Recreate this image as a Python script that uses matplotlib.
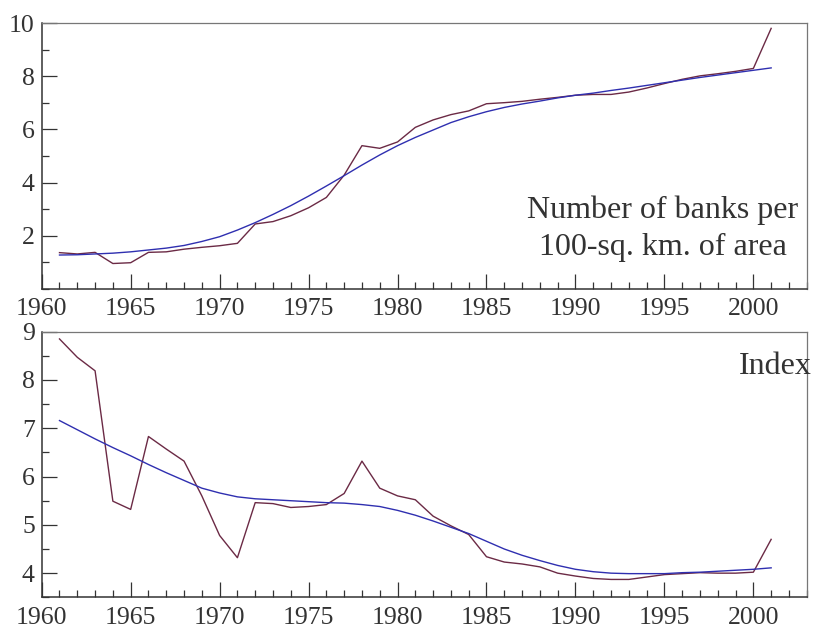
import numpy as np
import matplotlib
matplotlib.use("Agg")
import matplotlib.pyplot as plt
from matplotlib.ticker import MultipleLocator

plt.rcParams['font.family'] = ['Liberation Serif', 'DejaVu Serif']

years = list(range(1961, 2002))

# number of banks per 100 sq. km, actual and trend
banks_actual = [1.36, 1.31, 1.37, 0.95, 0.98, 1.37, 1.39, 1.49, 1.56, 1.62,
                1.71, 2.44, 2.53, 2.75, 3.05, 3.44, 4.28, 5.39, 5.29, 5.53,
                6.08, 6.36, 6.56, 6.70, 6.97, 7.01, 7.06, 7.14, 7.21, 7.29,
                7.32, 7.32, 7.41, 7.56, 7.73, 7.89, 8.02, 8.10, 8.19, 8.30,
                9.81]
banks_trend = [1.27, 1.28, 1.31, 1.34, 1.39, 1.46, 1.53, 1.63, 1.78, 1.96,
               2.21, 2.49, 2.80, 3.13, 3.49, 3.87, 4.26, 4.66, 5.04, 5.39,
               5.70, 5.98, 6.26, 6.48, 6.67, 6.83, 6.96, 7.07, 7.19, 7.29,
               7.37, 7.47, 7.56, 7.66, 7.76, 7.86, 7.96, 8.05, 8.14, 8.23,
               8.32]

# index, actual and trend
index_actual = [8.85, 8.47, 8.19, 5.49, 5.32, 6.83, 6.57, 6.32, 5.60, 4.78,
                4.32, 5.46, 5.44, 5.36, 5.38, 5.42, 5.65, 6.32, 5.76, 5.60,
                5.52, 5.18, 4.98, 4.80, 4.34, 4.23, 4.19, 4.13, 4.00, 3.94,
                3.89, 3.87, 3.87, 3.92, 3.97, 3.99, 4.01, 4.00, 4.00, 4.02,
                4.70]
index_trend = [7.16, 6.97, 6.78, 6.60, 6.43, 6.25, 6.08, 5.92, 5.76, 5.66,
               5.58, 5.54, 5.52, 5.50, 5.48, 5.46, 5.45, 5.42, 5.38, 5.30,
               5.20, 5.08, 4.95, 4.82, 4.66, 4.50, 4.37, 4.26, 4.16, 4.08,
               4.03, 4.00, 3.99, 3.99, 3.99, 4.01, 4.02, 4.04, 4.06, 4.08,
               4.11]

red = '#6b2a45'
blue = '#2f2fb0'
txt = '#333333'

fig = plt.figure(figsize=(8.13, 6.30), dpi=100)
ax1 = fig.add_axes([0.0513, 0.5417, 0.941, 0.4213])
ax2 = fig.add_axes([0.0513, 0.0519, 0.941, 0.4216])


def style(ax):
    ax.set_xlim(1960, 2003)
    ax.xaxis.set_major_locator(MultipleLocator(5))
    ax.xaxis.set_minor_locator(MultipleLocator(1))
    ax.tick_params(which='both', direction='in', colors=txt, labelsize=18.5,
                   top=False, right=False)
    ax.tick_params(axis='x', which='major', length=11, width=0.9, pad=7)
    ax.tick_params(axis='x', which='minor', length=5, width=0.9)
    ax.tick_params(axis='y', which='major', length=11, width=0.9, pad=5)
    ax.tick_params(axis='y', which='minor', length=5, width=0.9)
    for s in ['left', 'bottom']:
        ax.spines[s].set_color(txt)
        ax.spines[s].set_linewidth(1.1)
    for s in ['top', 'right']:
        ax.spines[s].set_color('#777777')
        ax.spines[s].set_linewidth(0.9)


ax1.plot(years, banks_actual, color=red, lw=1.0)
ax1.plot(years, banks_trend, color=blue, lw=1.0)
style(ax1)
ax1.set_ylim(0, 10)
ax1.set_yticks([2, 4, 6, 8, 10])
ax1.yaxis.set_minor_locator(MultipleLocator(1))
ax1.text(663, 630 - 218, 'Number of banks per', transform=None,
         ha='center', va='baseline', fontsize=23, color=txt)
ax1.text(663, 630 - 255, '100-sq. km. of area', transform=None,
         ha='center', va='baseline', fontsize=23, color=txt)

ax2.plot(years, index_actual, color=red, lw=1.0)
ax2.plot(years, index_trend, color=blue, lw=1.0)
style(ax2)
ax2.set_ylim(3.5, 9)
ax2.set_yticks([4, 5, 6, 7, 8, 9])
ax2.yaxis.set_minor_locator(MultipleLocator(0.5))
ax2.text(812, 630 - 374, 'Index', transform=None, ha='right', va='baseline',
         fontsize=23, color=txt)

fig.savefig('out.png', dpi=100)
